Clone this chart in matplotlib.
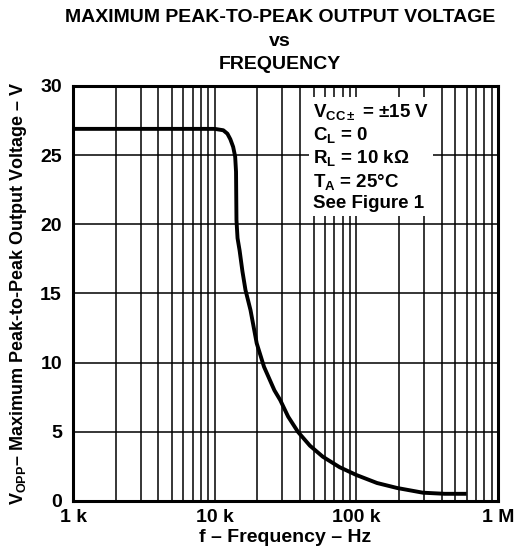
import matplotlib
matplotlib.use("Agg")
from matplotlib import pyplot as plt
from matplotlib.ticker import FixedLocator, NullFormatter

# curve
freq_hz = [1000, 5000, 10000, 11500, 12300, 12900, 13500, 13950, 14150, 14200,
           14250, 14500, 15000, 15700, 16500, 17900, 19800, 22300, 26400,
           29000, 33000, 38700, 47000, 58000, 76000, 100000, 140000, 194000,
           295000, 420000, 600000]
vopp = [26.9, 26.9, 26.9, 26.8, 26.55, 26.15, 25.6, 24.9, 23.8, 22.0,
        20.3, 19.0, 18.1, 16.6, 15.25, 13.8, 11.4, 9.7, 8.0,
        7.3, 6.1, 5.0, 4.0, 3.2, 2.45, 1.88, 1.3, 0.94,
        0.6, 0.52, 0.52]

major_x = [1e3, 1e4, 1e5, 1e6]
major_x_labels = ["1 k", "10 k", "100 k", "1 M"]
y_ticks = [0, 5, 10, 15, 20, 25, 30]

conditions = ("V$_{\\mathregular{CC\\pm}}$ = \u00b115 V\n"
              "C$_{\\mathregular{L}}$ = 0\n"
              "R$_{\\mathregular{L}}$ = 10 k\u03a9\n"
              "T$_{\\mathregular{A}}$ = 25\u00b0C\n"
              "See Figure 1")
title_lines = ["MAXIMUM PEAK-TO-PEAK OUTPUT VOLTAGE", "vs", "FREQUENCY"]

plt.rcParams["font.family"] = ["Liberation Sans", "DejaVu Sans"]
plt.rcParams["font.weight"] = "bold"
plt.rcParams["mathtext.fontset"] = "custom"
plt.rcParams["mathtext.rm"] = "Liberation Sans:bold"
plt.rcParams["mathtext.it"] = "Liberation Sans:bold"
plt.rcParams["mathtext.bf"] = "Liberation Sans:bold"

fig = plt.figure(figsize=(5.17, 5.47), dpi=100)
ax = fig.add_axes([0.1412, 0.0841, 0.8221, 0.7587])

ax.set_xscale("log")
ax.set_xlim(1e3, 1e6)
ax.set_ylim(0, 30)

minor_x = [m * 10 ** d for d in range(3, 6) for m in range(2, 10)]
ax.xaxis.set_major_locator(FixedLocator(major_x))
ax.xaxis.set_minor_locator(FixedLocator(minor_x))
ax.xaxis.set_minor_formatter(NullFormatter())
ax.set_xticklabels(major_x_labels)
ax.set_yticks(y_ticks)

ax.grid(True, which="both", axis="x", color="black", linewidth=1.1)
ax.grid(True, which="major", axis="y", color="black", linewidth=1.1)
ax.tick_params(which="both", length=0, labelsize=14)
ax.tick_params(axis="y", pad=8)
ax.tick_params(axis="x", pad=6)
for s in ax.spines.values():
    s.set_linewidth(2.2)

ax.plot(freq_hz, vopp, color="black", linewidth=2.8, solid_capstyle="butt",
        solid_joinstyle="round")

ax.text(0.565, 0.962, conditions, transform=ax.transAxes, ha="left", va="top",
        fontsize=13.5, fontweight="bold", linespacing=1.22, zorder=5,
        bbox=dict(facecolor="white", edgecolor="none", pad=3))

ax.set_xlabel("f \u2013 Frequency \u2013 Hz", fontsize=14, fontweight="bold", labelpad=2)
ax.set_ylabel("V$_{\\mathregular{OPP}}$\u2013 Maximum Peak-to-Peak Output Voltage \u2013 V",
              fontsize=13, fontweight="bold", labelpad=8)

for txt, yy in zip(title_lines, [0.968, 0.925, 0.882]):
    fig.text(0.541, yy, txt, ha="center", va="center", fontsize=14, fontweight="bold")

fig.savefig("out.png", dpi=100)
